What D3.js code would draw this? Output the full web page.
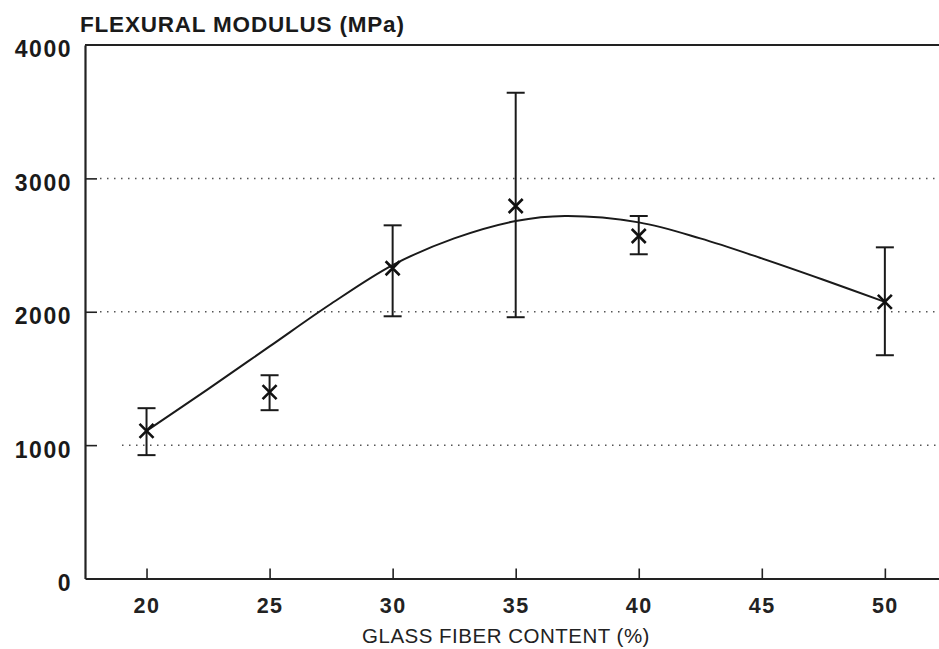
<!DOCTYPE html>
<html>
<head>
<meta charset="utf-8">
<script src="https://cdn.jsdelivr.net/npm/d3@7"></script>
<style>
  body { margin: 0; background: #fff; }
  svg { display: block; font-family: "Liberation Sans", Arial, Helvetica, sans-serif; }
  .grid line { stroke: #555; stroke-width: 1.5; stroke-dasharray: 1.5 5.5; }
</style>
</head>
<body>
<div id="chart"></div>
<script>
// measured points (glass fiber %, modulus MPa) with error bar ends
var fiber   = [20, 25, 30, 35, 40, 50];
var modulus = [1107, 1397, 2326, 2793, 2568, 2074];
var errLow  = [925, 1262, 1966, 1959, 2431, 1674];
var errHigh = [1277, 1524, 2648, 3642, 2718, 2483];

// fitted curve
var curveX = [20, 22.5, 25, 27.5, 30, 32.5, 35, 37, 40, 42.5, 45, 47.5, 50];
var curveY = [1107, 1420, 1740, 2060, 2350, 2550, 2680, 2718, 2670, 2550, 2400, 2240, 2074];

var xTicks = [20, 25, 30, 35, 40, 45, 50];
var yTicks = [0, 1000, 2000, 3000, 4000];
var gridTicks = [1000, 2000, 3000];

var width = 939, height = 649;
var margin = {top: 45, right: 0, bottom: 70, left: 85};

var svg = d3.select("#chart").append("svg")
    .attr("width", width)
    .attr("height", height);

// x range runs past the right edge, like the cropped scan
var x = d3.scaleLinear()
    .domain([17.5, 52.2])
    .range([margin.left, width - margin.right]);

var y = d3.scaleLinear()
    .domain([0, 4000])
    .range([height - margin.bottom - 0.5, margin.top]);

// dotted gridlines
svg.append("g")
    .attr("class", "grid")
    .selectAll("line")
    .data(gridTicks)
    .enter()
    .append("line")
    .attr("x1", function (d) { return d == 1000 ? 122 : 100; })
    .attr("x2", width)
    .attr("y1", function (d) { return y(d); })
    .attr("y2", function (d) { return y(d); });

// x axis, ticks pointing inward
var xAxis = svg.append("g")
    .attr("transform", "translate(0," + y(0) + ")")
    .call(d3.axisBottom(x)
        .tickValues(xTicks)
        .tickSizeInner(-10)
        .tickSizeOuter(0)
        .tickPadding(19));
xAxis.select(".domain").attr("stroke-width", 2.2).attr("stroke", "#222");
xAxis.selectAll(".tick line").attr("stroke-width", 1.6).attr("stroke", "#222");
xAxis.selectAll(".tick text")
    .attr("font-size", 21.5)
    .attr("font-weight", "bold")
    .attr("letter-spacing", 1.5)
    .attr("fill", "#222");

// y axis, ticks pointing inward
var yAxis = svg.append("g")
    .attr("transform", "translate(" + margin.left + ",0)")
    .call(d3.axisLeft(y)
        .tickValues(yTicks)
        .tickFormat(d3.format("d"))
        .tickSizeInner(-12)
        .tickSizeOuter(0)
        .tickPadding(13));
yAxis.select(".domain").attr("stroke-width", 2.2).attr("stroke", "#222");
yAxis.selectAll(".tick line").attr("stroke-width", 1.6).attr("stroke", "#222")
    .attr("display", function (d) { return d == 0 || d == 4000 ? "none" : null; });
yAxis.selectAll(".tick text")
    .attr("font-size", 23)
    .attr("font-weight", "bold")
    .attr("letter-spacing", 1.5)
    .attr("fill", "#1a1a1a")
    .attr("dy", "0.52em");

// top frame line
svg.append("line")
    .attr("x1", margin.left)
    .attr("x2", width)
    .attr("y1", y(4000))
    .attr("y2", y(4000))
    .attr("stroke", "#222")
    .attr("stroke-width", 2.2);

// fitted curve
var line = d3.line()
    .x(function (d) { return x(d[0]); })
    .y(function (d) { return y(d[1]); })
    .curve(d3.curveCatmullRom.alpha(0.5));

svg.append("path")
    .datum(d3.zip(curveX, curveY))
    .attr("d", line)
    .attr("fill", "none")
    .attr("stroke", "#1a1a1a")
    .attr("stroke-width", 2);

// error bars
var bars = svg.append("g")
    .attr("stroke", "#1a1a1a")
    .attr("stroke-width", 2)
    .selectAll("g")
    .data(d3.range(fiber.length))
    .enter()
    .append("g");

bars.append("line")
    .attr("x1", function (i) { return x(fiber[i]); })
    .attr("x2", function (i) { return x(fiber[i]); })
    .attr("y1", function (i) { return y(errLow[i]); })
    .attr("y2", function (i) { return y(errHigh[i]); });
bars.append("line")
    .attr("x1", function (i) { return x(fiber[i]) - 9; })
    .attr("x2", function (i) { return x(fiber[i]) + 9; })
    .attr("y1", function (i) { return y(errLow[i]); })
    .attr("y2", function (i) { return y(errLow[i]); });
bars.append("line")
    .attr("x1", function (i) { return x(fiber[i]) - 9; })
    .attr("x2", function (i) { return x(fiber[i]) + 9; })
    .attr("y1", function (i) { return y(errHigh[i]); })
    .attr("y2", function (i) { return y(errHigh[i]); });

// x markers
var s = 7;
svg.append("g")
    .selectAll("path")
    .data(d3.range(fiber.length))
    .enter()
    .append("path")
    .attr("d", function (i) {
        var cx = x(fiber[i]), cy = y(modulus[i]);
        return "M" + (cx - s) + "," + (cy - s) + "L" + (cx + s) + "," + (cy + s) +
               "M" + (cx - s) + "," + (cy + s) + "L" + (cx + s) + "," + (cy - s);
    })
    .attr("stroke", "#111")
    .attr("stroke-width", 2.6)
    .attr("fill", "none");

// titles
svg.append("text")
    .attr("x", 80)
    .attr("y", 32)
    .attr("font-size", 22.5)
    .attr("font-weight", "bold")
    .attr("letter-spacing", 0.8)
    .attr("fill", "#1a1a1a")
    .text("FLEXURAL MODULUS (MPa)");

svg.append("text")
    .attr("x", 506)
    .attr("y", 643)
    .attr("text-anchor", "middle")
    .attr("font-size", 20.5)
    .attr("letter-spacing", 0.5)
    .attr("fill", "#222")
    .text("GLASS FIBER CONTENT (%)");
</script>
</body>
</html>
